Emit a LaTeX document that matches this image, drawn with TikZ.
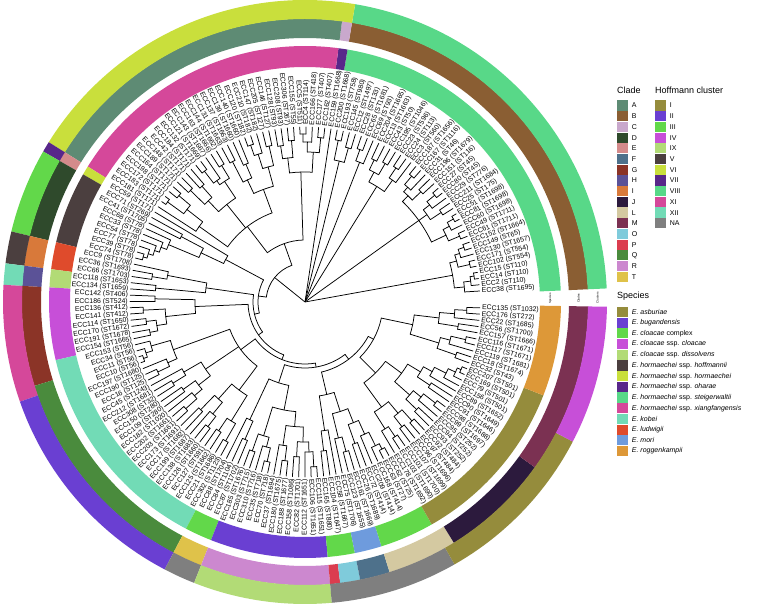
\documentclass[tikz,border=0pt]{standalone}
\usepackage{fontspec}
\setmainfont{Liberation Sans}
\usetikzlibrary{positioning}

% clade colours
\definecolor{clA}{HTML}{5E8B74}\definecolor{clB}{HTML}{8A5E33}\definecolor{clC}{HTML}{C9A8CC}
\definecolor{clD}{HTML}{2F4A2C}\definecolor{clE}{HTML}{D48B8B}\definecolor{clF}{HTML}{4E718B}
\definecolor{clG}{HTML}{8B3427}\definecolor{clH}{HTML}{5B5297}\definecolor{clI}{HTML}{D8793A}
\definecolor{clJ}{HTML}{2C1A3D}\definecolor{clL}{HTML}{D4C9A1}\definecolor{clM}{HTML}{7B3152}
\definecolor{clO}{HTML}{7FCBDB}\definecolor{clP}{HTML}{DB3D4F}\definecolor{clQ}{HTML}{4A8B3D}
\definecolor{clR}{HTML}{CC88CF}\definecolor{clT}{HTML}{DFC24A}
% cluster / species colours
\definecolor{hI}{HTML}{958C3C}\definecolor{hII}{HTML}{6A3FD2}\definecolor{hIII}{HTML}{62D84A}
\definecolor{hIV}{HTML}{C74FD8}\definecolor{hIX}{HTML}{B2DB76}\definecolor{hV}{HTML}{4B3F3F}
\definecolor{hVI}{HTML}{C9DF3C}\definecolor{hVII}{HTML}{58278A}\definecolor{hVIII}{HTML}{58D888}
\definecolor{hXI}{HTML}{D5489A}\definecolor{hXII}{HTML}{72DBB6}\definecolor{hNA}{HTML}{7F7F7F}
\definecolor{spLud}{HTML}{DF4B2C}\definecolor{spMori}{HTML}{6E9BDD}\definecolor{spRog}{HTML}{DD9838}

\newcount\leafno
\def\angstart{3.6}
\def\angstep{2.049}
\def\rtip{175}
\def\rlab{177}

% one tip of the tree
\newcommand\Lf[1]{%
  \global\advance\leafno by 1\relax
  \xdef\retA{\the\leafno}%
  \pgfmathsetmacro\la{\angstart+(\retA-1)*\angstep}%
  \draw[branch] (\la:\parR) -- (\la:\rtip);
  \def\lanc{west}\let\lrot\la
  \ifdim\la pt>90pt\relax\ifdim\la pt<270pt\relax
    \pgfmathsetmacro\lrot{\la-180}\def\lanc{east}\fi\fi
  \node[tiplab, anchor=\lanc, rotate=\lrot] (tip\retA) at (\la:\rlab) {#1};
  \ifx\firstA\relax\edef\firstA{\retA}\fi
  \edef\lastA{\retA}}

% one inner node: radius, children
\newcommand\Nd[2]{%
  \begingroup
    \let\myparR\parR
    \def\parR{#1}%
    \let\firstA\relax
    #2%
    \pgfmathsetmacro\ta{\angstart+(\firstA-1)*\angstep}%
    \pgfmathsetmacro\tb{\angstart+(\lastA-1)*\angstep}%
    \pgfmathsetmacro\tm{(\ta+\tb)/2}%
    \draw[branch] (\ta:#1) arc[start angle=\ta, end angle=\tb, radius=#1];
    \draw[branch] (\tm:\myparR) -- (\tm:#1);
    \pgfmathsetmacro\myA{(\firstA+\lastA)/2}%
    \xdef\retA{\myA}%
  \endgroup
  \ifx\firstA\relax\edef\firstA{\retA}\fi
  \edef\lastA{\retA}}

% ring tile over tips #3..#4
\newcommand\ringseg[5]{%
  \pgfmathsetmacro\sa{\angstart+(#3-1.5)*\angstep}%
  \pgfmathsetmacro\sb{\angstart+(#4-0.5)*\angstep}%
  \fill[#5] (\sa:#1) arc[start angle=\sa, end angle=\sb, radius=#1]
    -- (\sb:#2) arc[start angle=\sb, end angle=\sa, radius=#2] -- cycle;}

\tikzset{
  branch/.style={line width=0.75pt, line cap=round},
  tiplab/.style={font=\fontsize{6.9}{8}\selectfont, inner sep=0pt},
  ringcap/.style={font=\fontsize{3}{3}\selectfont, inner sep=0pt, rotate=90},
  swatch/.style={minimum width=11pt, minimum height=10.2pt, inner sep=0pt},
  legtext/.style={font=\fontsize{7}{8}\selectfont, inner sep=0pt},
  legtitle/.style={font=\fontsize{9}{10}\selectfont, inner sep=0pt, anchor=west},
}

\begin{document}
\begin{tikzpicture}[x=1pt,y=1pt]
\useasboundingbox (0,0) rectangle (760,607);

\begin{scope}[shift={(305,305)}]
% species ring
\foreach \ka/\kb/\col in {1/38/hVIII,39/39/hVII,40/71/hXI,72/72/hVI,73/80/hV,81/83/spLud,84/85/hIX,
  86/93/hIV,94/117/hXII,118/120/hIII,121/133/hII,134/136/hIII,137/139/spMori,140/145/hIII,
  146/164/hI,165/174/spRog}
  {\ringseg{235}{256}{\ka}{\kb}{\col}}
% clade ring
\foreach \ka/\kb/\col in {1/38/clB,39/39/clC,40/71/clA,72/72/clE,73/80/clD,81/83/clI,84/85/clH,
  86/95/clG,96/117/clQ,118/120/clT,121/133/clR,134/134/clP,135/136/clO,137/139/clF,
  140/146/clL,147/157/clJ,158/174/clM}
  {\ringseg{264}{283.3}{\ka}{\kb}{\col}}
% cluster ring
\foreach \ka/\kb/\col in {1/38/hVIII,39/71/hVI,72/72/hVII,73/80/hIII,81/83/hV,84/85/hXII,
  86/96/hXI,97/117/hII,118/120/hNA,121/133/hIX,134/145/hNA,146/161/hI,162/174/hIV}
  {\ringseg{283}{302}{\ka}{\kb}{\col}}

\node[ringcap] (capsp) at (0.8:245.5) {Species};
\node[ringcap] (capcl) at (0.8:273.5) {Clades};
\node[ringcap] (caphc) at (0.8:292.5) {Clusters};

% tree
\def\parR{0}\let\firstA\relax
\Nd{0.5}{%
  % steigerwaltii
  \Nd{150}{%
    \Nd{160}{\Lf{ECC38 (ST1695)}\Nd{167}{\Lf{ECC2 (ST110)}\Nd{171}{\Lf{ECC14 (ST110)}\Lf{ECC15 (ST110)}}}}%
    \Nd{157}{\Nd{169}{\Lf{ECC102 (ST554)}\Lf{ECC171 (ST554)}}\Nd{162}{\Lf{ECC130 (ST1657)}\Nd{168}{\Lf{ECC149 (ST65)}\Lf{ECC152 (ST1664)}}}}%
  }%
  \Nd{140}{%
    \Nd{156}{\Nd{168}{\Lf{ECC61 (ST1711)}\Lf{ECC49 (ST1711)}}\Nd{163}{\Lf{ECC60 (ST1698)}\Nd{170}{\Lf{ECC81 (ST1698)}\Lf{ECC51 (ST1698)}}}}%
    \Nd{150}{\Nd{163}{\Lf{ECC25 (ST175)}\Lf{ECC211 (ST1684)}}\Nd{158}{\Lf{ECC29 (ST776)}\Nd{168}{\Lf{ECC80 (ST45)}\Lf{ECC27 (ST45)}}}}%
    \Nd{148}{\Nd{160}{\Lf{ECC151 (ST116)}\Lf{ECC196 (ST1679)}}\Nd{154}{\Lf{ECC31 (ST46)}\Nd{165}{\Lf{ECC167 (ST1116)}\Lf{ECC187 (ST1656)}}}}%
  }%
  \Nd{136}{\Nd{150}{\Lf{ECC3 (ST560)}\Nd{162}{\Lf{ECC24 (ST113)}\Lf{ECC23 (ST596)}}}\Nd{147}{\Nd{160}{\Lf{ECC195 (ST1046)}\Lf{ECC43 (ST50)}}\Nd{158}{\Lf{ECC13 (ST1663)}\Lf{ECC204 (ST1665)}}}}%
  \Nd{150}{\Lf{ECC69 (ST93)}\Nd{162}{\Lf{ECC65 (ST1681)}\Lf{ECC28 (ST133)}}}%
  \Nd{145}{\Nd{160}{\Lf{ECC12 (ST1497)}\Lf{ECC145 (ST980)}}\Nd{165}{\Lf{ECC193 (ST758)}\Lf{ECC200 (ST1668)}}}%
  % oharae
  \Lf{ECC159 (ST1668)}%
  \Nd{39}{%
    % xiangfangensis
    \Nd{62}{%
      \Nd{130}{\Nd{150}{\Nd{165}{\Lf{ECC162 (ST407)}\Lf{ECC177 (ST407)}}\Nd{160}{\Lf{ECC166 (ST418)}\Nd{168}{\Lf{ECC4 (ST114)}\Lf{ECC5 (ST511)}}}}\Nd{145}{\Nd{162}{\Lf{ECC155 (ST55)}\Lf{ECC306 (ST267)}}\Nd{158}{\Lf{ECC208 (ST93)}\Lf{ECC128 (ST93)}}}}%
      \Nd{95}{%
        \Nd{120}{\Nd{140}{\Nd{160}{\Lf{ECC146 (ST127)}\Lf{ECC205 (ST127)}}\Nd{155}{\Lf{ECC147 (ST182)}\Nd{166}{\Lf{ECC210 (ST182)}\Lf{ECC120 (ST182)}}}}\Nd{135}{\Nd{150}{\Lf{ECC140 (ST1660)}\Lf{ECC139 (ST1660)}}\Nd{158}{\Lf{ECC137 (ST1663)}\Lf{ECC131 (ST1663)}}}}%
        \Nd{125}{\Nd{145}{\Nd{160}{\Lf{ECC144 (ST1662)}\Lf{ECC163 (ST1666)}}\Nd{150}{\Lf{ECC143 (ST1667)}\Nd{165}{\Lf{ECC121 (ST1669)}\Lf{ECC132 (ST171)}}}}\Nd{140}{\Nd{155}{\Lf{ECC184 (ST171)}\Lf{ECC42 (ST171)}}\Nd{160}{\Lf{ECC148 (ST171)}\Lf{ECC189 (ST171)}}}}%
        \Nd{130}{\Nd{150}{\Nd{165}{\Lf{ECC164 (ST171)}\Lf{ECC198 (ST171)}}\Nd{170}{\Lf{ECC172 (ST171)}\Lf{ECC183 (ST171)}}}\Lf{ECC181 (ST171)}}%
      }%
    }%
    \Nd{47}{%
      \Nd{90}{\Lf{ECC59 (ST171)}\Nd{115}{\Nd{140}{\Lf{ECC71 (ST269)}\Lf{ECC41 (ST1705)}}\Nd{148}{\Lf{ECC68 (ST78)}\Nd{154}{\Lf{ECC33 (ST78)}\Nd{159}{\Lf{ECC54 (ST78)}\Nd{164}{\Lf{ECC77 (ST78)}\Nd{168}{\Lf{ECC39 (ST78)}\Lf{ECC74 (ST78)}}}}}}}}%
      \Nd{52}{%
        \Nd{100}{\Nd{140}{\Lf{ECC9 (ST1708)}\Nd{155}{\Lf{ECC36 (ST1693)}\Lf{ECC66 (ST1703)}}}\Nd{150}{\Lf{ECC118 (ST1653)}\Lf{ECC134 (ST1659)}}}%
        \Nd{57}{%
          \Nd{110}{\Nd{150}{\Lf{ECC142 (ST406)}\Lf{ECC186 (ST524)}}\Nd{140}{\Nd{162}{\Lf{ECC136 (ST412)}\Lf{ECC141 (ST412)}}\Nd{150}{\Nd{160}{\Lf{ECC114 (ST1650)}\Lf{ECC170 (ST1672)}}\Nd{158}{\Lf{ECC191 (ST1678)}\Lf{ECC154 (ST1665)}}}}}%
          \Nd{62}{%
            \Nd{80}{%
              \Nd{140}{\Nd{160}{\Lf{ECC153 (ST56)}\Nd{167}{\Lf{ECC34 (ST56)}\Nd{171}{\Lf{ECC11 (ST56)}\Lf{ECC10 (ST56)}}}}\Nd{150}{\Lf{ECC197 (ST1680)}\Nd{163}{\Lf{ECC190 (ST125)}\Lf{ECC16 (ST125)}}}}%
              \Nd{120}{\Nd{140}{\Lf{ECC45 (ST1243)}\Nd{155}{\Lf{ECC212 (ST1681)}\Lf{ECC308 (ST32)}}}\Nd{135}{\Nd{150}{\Lf{ECC150 (ST280)}\Lf{ECC109 (ST280)}}\Nd{145}{\Lf{ECC182 (ST1020)}\Nd{160}{\Lf{ECC202 (ST1661)}\Lf{ECC203 (ST1661)}}}}}%
              \Nd{110}{\Nd{130}{\Nd{150}{\Lf{ECC173 (ST1691)}\Lf{ECC17 (ST1682)}}\Nd{145}{\Lf{ECC199 (ST1687)}\Nd{158}{\Lf{ECC138 (ST1683)}\Lf{ECC126 (ST1660)}}}}\Nd{140}{\Nd{155}{\Lf{ECC127 (ST591)}\Lf{ECC125 (ST1662)}}\Nd{160}{\Lf{ECC21 (ST1686)}\Lf{ECC302 (ST1123)}}}}%
            }%
            \Nd{66}{%
              \Nd{85}{\Nd{130}{\Lf{ECC88 (ST1704)}\Nd{150}{\Lf{ECC84 (ST1104)}\Lf{ECC87 (ST1702)}}}\Nd{110}{\Nd{140}{\Nd{158}{\Lf{ECC185 (ST1676)}\Lf{ECC303 (ST715)}}\Nd{150}{\Lf{ECC310 (ST716)}\Nd{164}{\Lf{ECC35 (ST718)}\Lf{ECC70 (ST718)}}}}\Nd{125}{\Nd{145}{\Lf{ECC37 (ST1694)}\Nd{160}{\Lf{ECC180 (ST1675)}\Lf{ECC188 (ST1677)}}}\Nd{140}{\Nd{155}{\Lf{ECC158 (ST1086)}\Lf{ECC82 (ST1701)}}\Nd{150}{\Lf{ECC112 (ST1651)}\Nd{165}{\Lf{ECC106 (ST1651)}\Lf{ECC115 (ST1651)}}}}}}}%
              \Nd{72}{%
                \Nd{95}{\Nd{130}{\Nd{150}{\Lf{ECC165 (ST880)}\Lf{ECC104 (ST1647)}}\Lf{ECC58 (ST1667)}}\Nd{115}{\Nd{140}{\Lf{ECC75 (ST1706)}\Nd{155}{\Lf{ECC123 (ST1655)}\Lf{ECC161 (ST1669)}}}\Nd{130}{\Nd{150}{\Lf{ECC26 (ST1689)}\Lf{ECC72 (ST414)}}\Nd{145}{\Lf{ECC209 (ST414)}\Nd{160}{\Lf{ECC168 (ST414)}\Nd{166}{\Lf{ECC63 (ST27)}\Lf{ECC62 (ST25)}}}}}}}%
                \Nd{78}{%
                  \Nd{100}{\Nd{130}{\Nd{150}{\Lf{ECC178 (ST1692)}\Nd{162}{\Lf{ECC103 (ST1690)}\Lf{ECC101 (ST1700)}}}\Nd{145}{\Nd{158}{\Lf{ECC107 (ST1699)}\Lf{ECC96 (ST1696)}}\Nd{160}{\Lf{ECC97 (ST484)}\Lf{ECC92 (ST484)}}}}\Nd{120}{\Nd{140}{\Nd{155}{\Lf{ECC93 (ST252)}\Lf{ECC94 (ST252)}}\Nd{150}{\Lf{ECC95 (ST252)}\Nd{165}{\Lf{ECC99 (ST1697)}\Lf{ECC98 (ST1688)}}}}\Nd{135}{\Nd{150}{\Lf{ECC91 (ST1646)}\Lf{ECC90 (ST1649)}}\Nd{145}{\Lf{ECC89 (ST1652)}\Nd{158}{\Lf{ECC156 (ST501)}\Nd{166}{\Lf{ECC79 (ST501)}\Nd{170}{\Lf{ECC169 (ST501)}\Lf{ECC207 (ST501)}}}}}}}}%
                  \Nd{110}{\Nd{140}{\Nd{160}{\Lf{ECC32 (ST43)}\Lf{ECC18 (ST1674)}}\Nd{150}{\Lf{ECC119 (ST1681)}\Nd{165}{\Lf{ECC117 (ST1671)}\Lf{ECC116 (ST1671)}}}}\Nd{135}{\Nd{155}{\Lf{ECC157 (ST1666)}\Lf{ECC56 (ST1700)}}\Nd{150}{\Lf{ECC22 (ST1685)}\Nd{162}{\Lf{ECC176 (ST272)}\Lf{ECC135 (ST1032)}}}}}%
                }%
              }%
            }%
          }%
        }%
      }%
    }%
  }%
}
\end{scope}

% legend
\node[legtitle] (cladetitle) at (617,517) {Clade};
\foreach \nm/\col [count=\i] in {A/clA,B/clB,C/clC,D/clD,E/clE,F/clF,G/clG,H/clH,I/clI,J/clJ,L/clL,M/clM,O/clO,P/clP,Q/clQ,R/clR,T/clT}{
  \node[swatch, fill=\col] (cl\i) at (622.5,{501.4-(\i-1)*10.7}) {};
  \node[legtext, right=3.5pt of cl\i] {\nm};
}
\node[legtitle] (hoffmanntitle) at (655,517) {Hoffmann cluster};
\foreach \nm/\col [count=\i] in {I/hI,II/hII,III/hIII,IV/hIV,IX/hIX,V/hV,VI/hVI,VII/hVII,VIII/hVIII,XI/hXI,XII/hXII,NA/hNA}{
  \node[swatch, fill=\col] (hc\i) at (660.5,{501.4-(\i-1)*10.7}) {};
  \node[legtext, right=3.5pt of hc\i] {\nm};
}
\node[legtitle] (speciestitle) at (617,311) {Species};
\foreach \nm/\col [count=\i] in {{\textit{E. asburiae}}/hI,{\textit{E. bugandensis}}/hII,
  {\textit{E. cloacae} complex}/hIII,{\textit{E. cloacae} ssp. \textit{cloacae}}/hIV,
  {\textit{E. cloacae} ssp. \textit{dissolvens}}/hIX,{\textit{E. hormaechei} ssp. \textit{hoffmannii}}/hV,
  {\textit{E. hormaechei} ssp. \textit{hormaechei}}/hVI,{\textit{E. hormaechei} ssp. \textit{oharae}}/hVII,
  {\textit{E. hormaechei} ssp. \textit{steigerwaltii}}/hVIII,{\textit{E. hormaechei} ssp. \textit{xiangfangensis}}/hXI,
  {\textit{E. kobei}}/hXII,{\textit{E. ludwigii}}/spLud,{\textit{E. mori}}/spMori,{\textit{E. roggenkampii}}/spRog}{
  \node[swatch, fill=\col] (sp\i) at (622.5,{295-(\i-1)*10.7}) {};
  \node[legtext, right=3.5pt of sp\i] {\nm};
}
\end{tikzpicture}
\end{document}
